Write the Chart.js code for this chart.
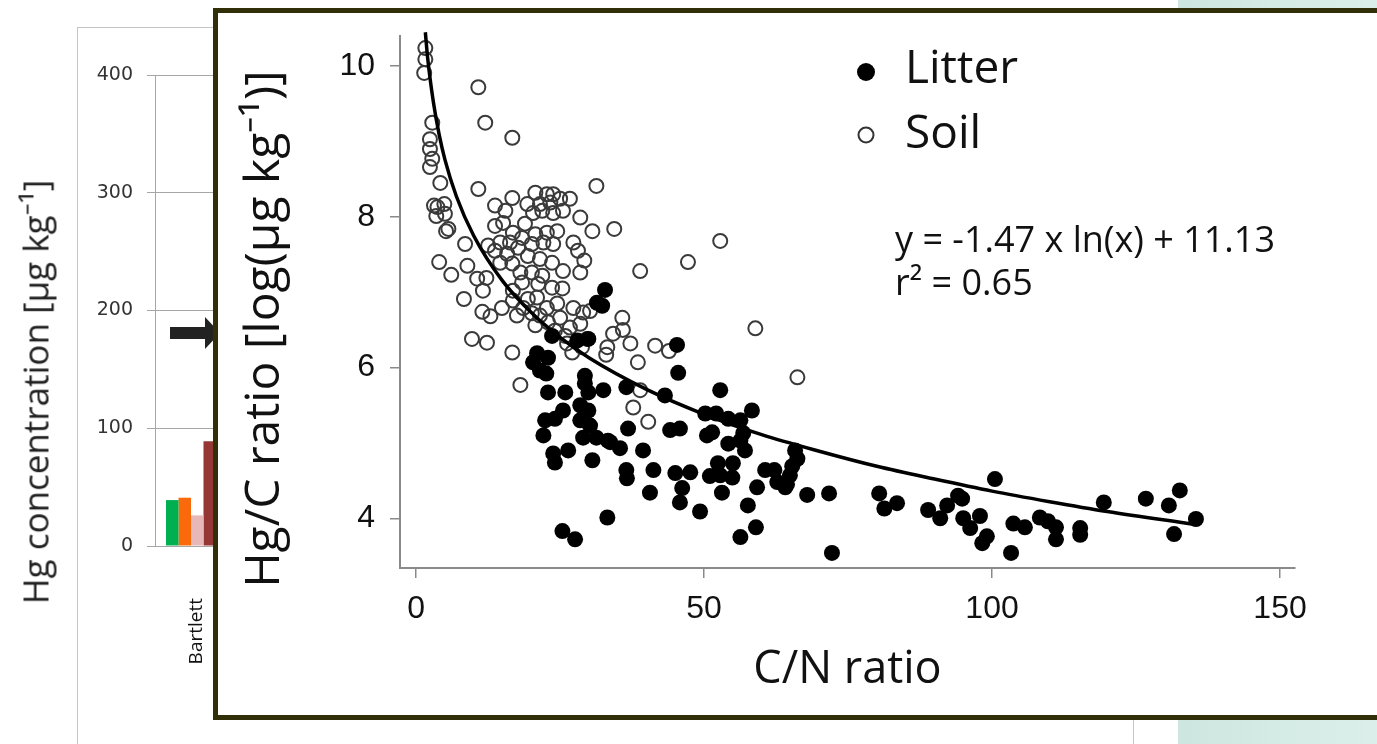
<!DOCTYPE html>
<html>
<head>
<meta charset="utf-8">
<script src="https://cdn.jsdelivr.net/npm/chart.js@4.4.1/dist/chart.umd.min.js"></script>
<style>
  html, body { margin: 0; padding: 0; background: #fff; width: 1377px; height: 744px; overflow: hidden; position: relative; font-family: 'Open Sans', sans-serif; }
  #teal { position: absolute; left: 1178px; top: 0; width: 199px; height: 744px; background: linear-gradient(to right, #cde6df, #dcefea); }
  #frame { position: absolute; left: 77px; top: 27px; width: 1055px; height: 760px; border: 1px solid #c4c4c4; background: #fff; }
  #barWrap { position: absolute; left: 0; top: 28px; }
  #bgTitle { position: absolute; left: 35px; top: 392px; transform: translate(-50%, -50%) rotate(-90deg); white-space: nowrap; font-size: 35px; color: #222; }
  #arrow { position: absolute; left: 170px; top: 316px; }
  #overlay { position: absolute; left: 213px; top: 8px; width: 1200px; height: 702px; border: 5px solid #302f08; background: #fff; }
  #scatterWrap { position: absolute; left: 218px; top: 13px; }
</style>
</head>
<body>
<div id="teal"></div>
<div id="frame"></div>
<div id="barWrap"><canvas id="barChart" width="240" height="716"></canvas></div>
<div id="bgTitle">Hg concentration [µg kg⁻¹]</div>
<svg id="arrow" width="50" height="34"><polygon points="0,11 35,11 35,1 50,17 35,33 35,23 0,23" fill="#222"/></svg>
<div id="overlay"></div>
<div id="scatterWrap"><canvas id="scatterChart" width="1159" height="702"></canvas></div>

<script>
// background bar chart (mostly hidden)
const siteLabels = ['Bartlett'];
const barSeries = [
  { name: 'A', color: '#00b050', values: [39] },
  { name: 'B', color: '#fa6a0a', values: [41] },
  { name: 'C', color: '#e6b9b8', values: [26] },
  { name: 'D', color: '#953735', values: [89] }
];
const hgTicks = [0, 100, 200, 300, 400];

// scatter: C/N ratio vs Hg/C ratio
const soilCN = [1.6,1.6,1.4,2.8,2.4,2.4,2.8,2.4,4.2,3.1,
  4.9,3.5,5.0,5.6,10.8,12.0,16.7,10.8,16.7,13.7,
  15.5,20.7,22.7,23.8,25.0,26.7,31.3,19.3,21.5,23.3,
  20.3,21.9,23.8,25.5,28.5,15.1,18.9,30.6,16.8,20.7,
  22.7,24.5,14.6,16.3,18.4,20.1,22.1,23.8,27.3,28.1,
  13.7,15.8,17.7,19.4,21.5,23.6,25.5,14.6,16.7,18.1,
  20.1,21.9,18.4,21.2,23.6,25.4,16.8,19.4,21.0,22.7,
  24.5,27.3,29.0,16.8,18.6,20.1,21.5,25.0,26.7,28.5,
  20.7,17.5,22.9,30.2,26.2,28.8,29.7,27.1,34.4,38.9,
  47.2,52.8,58.9,66.2,29.2,28.5,35.8,34.2,35.9,37.2,
  33.2,33.0,41.5,43.9,38.5,37.7,40.3,38.9,18.1,9.7,
  12.3,16.7,8.3,4.0,6.1,8.9,11.5,12.9,14.9,8.5,
  10.6,12.2,11.6,5.2,3.7,13.7,12.5,24.1,25.9];
const soilHgC = [10.24,10.09,9.91,9.25,9.03,8.90,8.77,8.66,8.45,8.15,
  8.17,8.01,8.04,7.84,9.72,9.25,9.05,8.37,8.25,8.15,
  8.08,8.32,8.30,8.30,8.24,8.24,8.41,8.17,8.17,8.19,
  8.05,8.08,8.05,8.08,7.99,7.92,7.91,7.81,7.79,7.77,
  7.79,7.81,7.66,7.66,7.72,7.64,7.66,7.64,7.66,7.55,
  7.55,7.51,7.59,7.48,7.44,7.39,7.28,7.39,7.38,7.26,
  7.26,7.22,7.13,7.11,7.06,7.05,7.02,6.91,6.93,6.79,
  6.85,6.79,6.73,6.89,6.79,6.72,6.69,6.66,6.53,6.58,
  6.56,6.69,6.60,6.75,6.32,6.27,6.38,6.20,7.84,7.28,
  7.40,7.68,6.52,5.87,7.42,7.26,6.66,6.45,6.50,6.32,
  6.27,6.17,6.29,6.22,6.07,5.47,5.28,5.70,5.77,6.38,
  6.33,6.20,6.91,7.40,7.23,7.35,6.74,6.68,6.79,7.64,
  7.18,7.19,7.02,7.81,8.13,7.88,7.62,6.49,6.42];

const litterCN = [32.8,32.3,45.3,45.5,32.5,36.5,43.2,52.8,58.3,50.2,
  52.1,54.2,56.3,36.8,44.1,45.8,50.5,51.4,56.3,57.1,
  56.8,33.3,35.4,39.4,36.5,36.6,41.2,45.0,47.6,51.0,
  52.4,52.8,55.0,54.9,40.6,46.2,53.1,45.8,49.3,57.6,
  60.6,62.2,62.7,59.2,33.2,56.3,59.0,21.0,22.9,20.3,
  21.5,22.6,28.0,29.9,29.3,29.3,29.9,22.9,25.9,25.5,
  22.4,24.1,22.1,28.5,28.5,29.9,30.2,29.0,31.3,33.7,
  23.8,24.1,26.4,30.6,25.4,27.6,65.8,66.2,65.3,64.9,
  64.4,67.9,71.7,72.2,80.4,81.3,83.5,88.9,91.0,92.2,
  94.1,94.8,95.0,96.2,97.9,98.3,99.1,100.5,103.7,105.7,
  103.3,108.3,109.7,111.1,111.1,115.3,115.3,119.4,126.7,132.6,
  130.7,131.6,135.4,31.4,23.6,54.2,64.1];
const litterHgC = [7.03,6.82,6.30,5.93,5.70,5.74,5.63,5.70,5.43,5.39,
  5.39,5.32,5.30,5.19,5.17,5.19,5.10,5.14,5.03,4.90,
  5.13,5.03,4.93,4.90,4.64,4.53,4.64,4.60,4.61,4.56,
  4.73,4.57,4.73,4.54,4.34,4.40,4.34,4.21,4.09,4.17,
  4.64,4.64,4.48,4.41,4.01,3.75,3.88,6.19,6.13,6.07,
  5.96,5.92,6.36,6.38,5.89,5.79,5.67,5.67,5.67,5.43,
  5.30,5.32,5.10,5.50,5.30,5.43,5.23,5.07,5.07,5.01,
  4.86,4.74,4.90,4.77,3.83,3.72,4.90,4.79,4.69,4.57,
  4.45,4.31,4.33,3.54,4.33,4.13,4.20,4.11,4.00,4.17,
  4.30,4.26,4.00,3.87,4.03,3.67,3.76,4.52,3.93,3.88,
  3.54,4.01,3.96,3.88,3.72,3.87,3.78,4.21,4.26,4.37,
  4.17,3.79,3.99,6.86,6.42,4.99,4.41];

// fitted curve
const fitCN  = [1.6, 2, 3, 4, 5, 7, 10, 15, 20, 25, 30, 40, 50, 60, 70, 80, 90, 100, 110, 120, 135];
const fitHgC = [10.45, 10.11, 9.52, 9.09, 8.76, 8.27, 7.75, 7.15, 6.73, 6.40, 6.13, 5.71, 5.38, 5.11, 4.89, 4.69, 4.52, 4.36, 4.22, 4.09, 3.92];

const cnTicks = [0, 50, 100, 150];
const hgcTicks = [4, 6, 8, 10];

const equationText = 'y = -1.47 x ln(x) + 11.13';
const r2Text = 'r² = 0.65';
const yTitleText = 'Hg/C ratio [log(µg kg⁻¹)]';

const NARROW = "'Liberation Sans Narrow', 'Liberation Sans', sans-serif";
const OPEN = "'Open Sans', sans-serif";

Chart.defaults.animation = false;
Chart.defaults.devicePixelRatio = 1;

// keep the plot area exactly where layout.padding puts it
function noOverhang(s) {
  s.paddingLeft = 0; s.paddingRight = 0; s.paddingTop = 0; s.paddingBottom = 0;
}

// ---- bar chart ----
new Chart(document.getElementById('barChart'), {
  type: 'bar',
  data: {
    labels: siteLabels,
    datasets: barSeries.map(s => ({
      label: s.name,
      data: s.values,
      backgroundColor: s.color,
      barPercentage: 1,
      categoryPercentage: 0.694
    }))
  },
  options: {
    responsive: false,
    layout: { padding: { top: 47, right: 13, left: 0, bottom: 0 } },
    plugins: { legend: { display: false }, tooltip: { enabled: false } },
    scales: {
      x: {
        grid: { display: false },
        border: { display: false },
        ticks: { minRotation: 90, maxRotation: 90, padding: 44, labelOffset: 6, color: '#111', font: { family: OPEN, size: 19 } },
        afterFit: s => { s.height = 198; noOverhang(s); }
      },
      y: {
        min: 0, max: 400,
        afterBuildTicks: s => { s.ticks = hgTicks.map(v => ({ value: v })); },
        grid: { color: '#a6a6a6', tickLength: 8 },
        border: { color: '#a6a6a6' },
        ticks: { padding: 14, color: '#333', font: { family: "'DejaVu Sans', sans-serif", size: 19 } },
        afterFit: s => { s.width = 155; noOverhang(s); }
      }
    }
  }
});

// ---- scatter chart ----
const overlayText = {
  id: 'overlayText',
  afterDraw(chart) {
    const { ctx, chartArea } = chart;
    const L = chartArea.left, T = chartArea.top;
    ctx.save();
    ctx.fillStyle = '#111';
    // y axis title
    ctx.save();
    ctx.translate(47, 316);
    ctx.rotate(-Math.PI / 2);
    ctx.font = '48px ' + OPEN;
    ctx.textAlign = 'center';
    ctx.textBaseline = 'middle';
    ctx.fillText(yTitleText, 0, 0);
    ctx.restore();
    // legend
    ctx.beginPath();
    ctx.arc(L + 466, T + 36, 9, 0, Math.PI * 2);
    ctx.fillStyle = '#000';
    ctx.fill();
    ctx.beginPath();
    ctx.arc(L + 466, T + 99, 7.5, 0, Math.PI * 2);
    ctx.lineWidth = 2;
    ctx.strokeStyle = '#333';
    ctx.stroke();
    ctx.fillStyle = '#111';
    ctx.font = '46px ' + OPEN;
    ctx.textAlign = 'left';
    ctx.textBaseline = 'middle';
    ctx.fillText('Litter', L + 505, T + 34);
    ctx.fillText('Soil', L + 505, T + 99);
    // equation
    ctx.font = '36px ' + OPEN;
    ctx.fillText(equationText, L + 495, T + 206);
    ctx.fillText(r2Text, L + 495, T + 249);
    ctx.restore();
  }
};

const axisStyle = {
  grid: { drawOnChartArea: false, drawTicks: true, tickLength: 10, color: '#8a8a8a', lineWidth: 1.5 },
  border: { color: '#8a8a8a', width: 2 }
};

new Chart(document.getElementById('scatterChart'), {
  type: 'scatter',
  data: {
    datasets: [
      {
        label: 'fit',
        data: fitCN.map((x, i) => ({ x, y: fitHgC[i] })),
        showLine: true,
        pointRadius: 0,
        borderColor: '#000',
        borderWidth: 3.5,
        cubicInterpolationMode: 'monotone',
        clip: false,
        order: 0
      },
      {
        label: 'Litter',
        data: litterCN.map((x, i) => ({ x, y: litterHgC[i] })),
        pointRadius: 8,
        backgroundColor: '#000',
        borderWidth: 0,
        order: 1
      },
      {
        label: 'Soil',
        data: soilCN.map((x, i) => ({ x, y: soilHgC[i] })),
        pointRadius: 7,
        backgroundColor: 'rgba(0,0,0,0)',
        borderColor: '#3a3a3a',
        borderWidth: 2,
        order: 2
      }
    ]
  },
  options: {
    responsive: false,
    layout: { padding: { top: 23, right: 82, left: 0, bottom: 0 } },
    plugins: { legend: { display: false }, tooltip: { enabled: false } },
    scales: {
      x: {
        type: 'linear',
        min: -2.8, max: 152.6,
        afterBuildTicks: s => { s.ticks = cnTicks.map(v => ({ value: v })); },
        ...axisStyle,
        ticks: { padding: 12, color: '#111', font: { family: NARROW, size: 32 } },
        title: { display: true, text: 'C/N ratio', color: '#111', font: { family: OPEN, size: 45 }, padding: { top: 0, bottom: 18 } },
        afterFit: s => { s.height = 147; noOverhang(s); }
      },
      y: {
        min: 3.34, max: 10.4,
        afterBuildTicks: s => { s.ticks = hgcTicks.map(v => ({ value: v })); },
        ...axisStyle,
        ticks: { padding: 15, color: '#111', font: { family: NARROW, size: 32 } },
        afterFit: s => { s.width = 182; noOverhang(s); }
      }
    }
  },
  plugins: [overlayText]
});
</script>
</body>
</html>
